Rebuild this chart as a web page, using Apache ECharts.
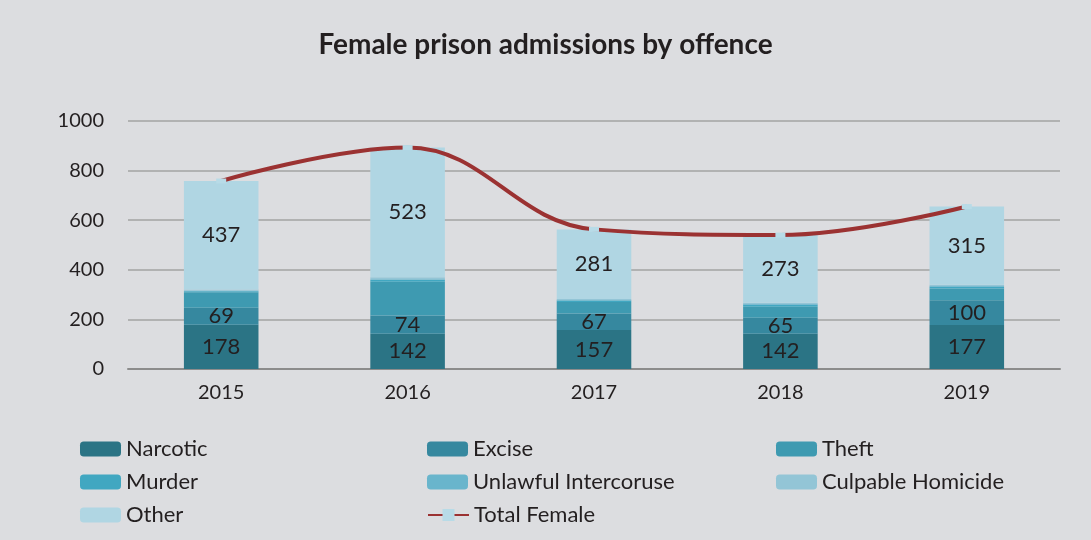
<!DOCTYPE html>
<html>
<head>
<meta charset="utf-8">
<script src="https://cdn.jsdelivr.net/npm/echarts@6/dist/echarts.min.js"></script>
<style>
    html, body {margin: 0; padding: 0; background: #dcdde0;}
    #main {width: 1091px; height: 540px;}
</style>
</head>
<body>
<div id="main"></div>
<script>
var years = ['2015', '2016', '2017', '2018', '2019'];
var narcotic = [178, 142, 157, 142, 177];
var excise = [69, 74, 67, 65, 100];
var theft = [62, 136, 46, 44, 48];
var murder = [5, 7, 6, 8, 7];
var unlawful = [2, 3, 2, 3, 3];
var culpable = [5, 8, 4, 5, 5];
var other = [437, 523, 281, 273, 315];
var totalFemale = [758, 893, 563, 540, 655];
var yTicks = [0, 200, 400, 600, 800, 1000];

var FONT = 'Lato, "Open Sans", sans-serif';

// 堆叠柱
var bar = function (name, data, color, showLabel) {
    return {
        name: name,
        type: 'bar',
        stack: 'all',
        barWidth: '40%',
        data: data,
        itemStyle: {color: color},
        label: {
            show: showLabel,
            position: 'inside',
            color: '#231f20',
            fontSize: 22,
            fontFamily: FONT
        },
        emphasis: {disabled: true}
    };
};

// 图例：三列，逐项定位
var legendOrder = [
    ['Narcotic', 'Excise', 'Theft'],
    ['Murder', 'Unlawful Intercoruse', 'Culpable Homicide'],
    ['Other', 'Total Female']
];
var colLeft = [80, 427, 776];
var rowTop = [438, 471, 504];
var legends = [];
legendOrder.forEach(function (row, r) {
    row.forEach(function (name, c) {
        legends.push({
            left: colLeft[c],
            top: rowTop[r],
            padding: 0,
            data: [name],
            itemWidth: 41,
            itemHeight: 15,
            textStyle: {fontSize: 22, color: '#231f20', fontFamily: FONT}
        });
    });
});

var chart = echarts.init(document.getElementById('main'));
var option = {
    backgroundColor: '#dcdde0',
    animation: false,
    title: {
        text: 'Female prison admissions by offence',
        left: 'center',
        top: 26,
        textStyle: {fontSize: 28, fontWeight: 'bold', color: '#231f20', fontFamily: FONT}
    },
    legend: legends,
    grid: {left: 128, right: 31, top: 121, bottom: 171},
    xAxis: {
        type: 'category',
        data: years,
        axisTick: {show: false},
        axisLine: {lineStyle: {color: '#8c8c8c', width: 2}},
        axisLabel: {fontSize: 20, color: '#231f20', fontFamily: FONT, margin: 14}
    },
    yAxis: {
        type: 'value',
        min: yTicks[0],
        max: yTicks[yTicks.length - 1],
        interval: 200,
        axisLabel: {
            fontSize: 20, color: '#231f20', fontFamily: FONT, margin: 24,
            formatter: function (v) { return String(v); }
        },
        splitLine: {lineStyle: {color: '#a3a3a3', width: 1.5}},
        axisLine: {show: false},
        axisTick: {show: false}
    },
    series: [
        bar('Narcotic', narcotic, '#2b7485', true),
        bar('Excise', excise, '#36889f', true),
        bar('Theft', theft, '#3e9ab1', false),
        bar('Murder', murder, '#41a7c1', false),
        bar('Unlawful Intercoruse', unlawful, '#69b5cc', false),
        bar('Culpable Homicide', culpable, '#93c5d6', false),
        bar('Other', other, '#b0d6e3', true),
        {
            name: 'Total Female',
            type: 'line',
            data: totalFemale,
            smooth: 0.4,
            symbol: 'rect',
            symbolSize: [10, 5],
            showAllSymbol: true,
            itemStyle: {color: '#b8dbe7'},
            lineStyle: {color: '#9b3232', width: 4},
            z: 5
        }
    ]
};
chart.setOption(option);
</script>
</body>
</html>
